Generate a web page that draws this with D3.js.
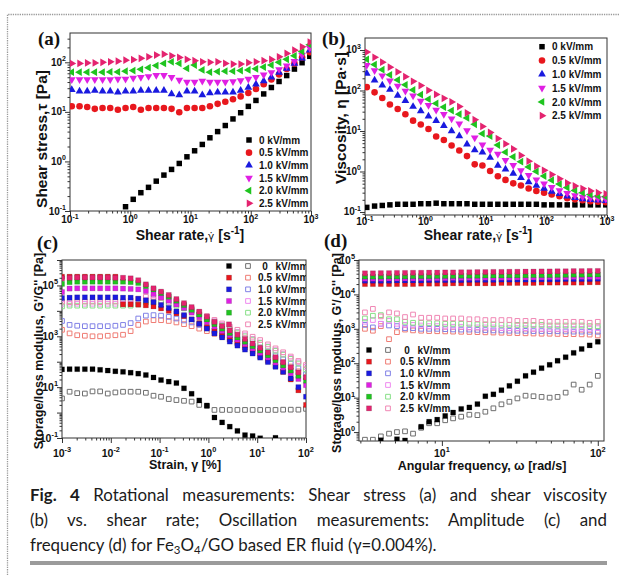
<!DOCTYPE html>
<html>
<head>
<meta charset="utf-8">
<script src="https://cdn.jsdelivr.net/npm/d3@7"></script>
<style>
  body { margin: 0; background: #fff; }
  svg { display: block; }
</style>
</head>
<body>
<svg id="fig" width="619" height="575"></svg>
<script>
// field strengths, shared by all four panels
const fields = ["0", "0.5", "1.0", "1.5", "2.0", "2.5"];

// (a) shear stress vs shear rate
const shearRate = [0.107, 0.144, 0.193, 0.258, 0.347, 0.465, 0.623, 0.835, 1.12, 1.50, 2.01, 2.70, 3.62, 4.85, 6.51, 8.73,
    11.7, 15.7, 21.0, 28.2, 37.8, 50.7, 68.0, 91.2, 122, 164, 220, 295, 395, 531, 711, 955];
const stress0 = [null, null, null, null, null, null, null, 0.122, 0.172, 0.234, 0.30, 0.40, 0.53, 0.69, 0.91, 1.24,
    1.64, 2.2, 3.0, 4.0, 5.3, 7.2, 9.6, 12.9, 17, 23, 31, 41, 54, 73, 98, 132];
const stress05 = [13, 13, 12.5, 11.5, 12, 12, 11, 12, 12.5, 11, 12, 12, 12, 11.5, 9.8, 12,
    12, 12, 13, 14.5, 16, 18, 20.5, 24, 29, 36, 45, 57, 73, 95, 125, 160];
const stress10 = [28, 26, 26, 27, 26, 26, 25, 26, 26, 27, 27, 27, 27, 23, 22, 26,
    26, 22, 24, 25, 25, 25, 27, 31, 36, 42, 50, 62, 75, 95, 120, 175];
const stress15 = [45, 45, 45, 45, 45, 45, 46, 46, 48, 50, 52, 55, 55, 50, 44, 40,
    40, 42, 40, 40, 40, 41, 43, 46, 50, 56, 62, 72, 85, 105, 140, 195];
const stress20 = [63, 63, 63, 63, 63, 64, 64, 66, 68, 72, 78, 86, 95, 102, 95, 75,
    88, 70, 63, 65, 66, 66, 68, 70, 74, 80, 88, 100, 115, 135, 165, 225];
const stress25 = [95, 95, 97, 97, 100, 102, 105, 110, 113, 120, 129, 140, 146, 135, 125, 114,
    108, 102, 100, 102, 95, 92, 92, 98, 102, 108, 114, 129, 151, 176, 205, 255];

// (b) viscosity vs shear rate
const visc0 = [0.13, 0.14, 0.145, 0.15, 0.155, 0.155, 0.155, 0.16, 0.16, 0.165, 0.16, 0.16, 0.16, 0.16, 0.155, 0.155,
    0.155, 0.155, 0.155, 0.155, 0.155, 0.155, 0.155, 0.15, 0.15, 0.15, 0.15, 0.15, 0.15, 0.15, 0.15, 0.15];
const visc05 = [121, 90, 65, 45, 35, 26, 18, 14.4, 11.2, 7.3, 6.0, 4.4, 3.3, 2.4, 1.5, 1.4,
    1.03, 0.76, 0.62, 0.51, 0.45, 0.38, 0.33, 0.30, 0.27, 0.245, 0.22, 0.205, 0.195, 0.185, 0.18, 0.175];
const visc10 = [262, 180, 135, 105, 75, 56, 40, 31, 23, 18, 13.4, 10, 7.5, 4.7, 3.4, 3.0,
    2.2, 1.4, 1.14, 0.89, 0.70, 0.55, 0.45, 0.38, 0.32, 0.28, 0.245, 0.225, 0.21, 0.2, 0.195, 0.19];
const visc15 = [420, 312, 233, 174, 130, 97, 74, 55, 43, 33, 26, 20, 15, 10.3, 6.8, 4.6,
    3.4, 2.7, 1.9, 1.42, 1.06, 0.81, 0.63, 0.50, 0.41, 0.34, 0.29, 0.255, 0.235, 0.22, 0.215, 0.21];
const visc20 = [590, 437, 326, 244, 182, 138, 103, 79, 61, 48, 39, 32, 26, 21, 14.6, 8.6,
    7.5, 4.5, 3.0, 2.3, 1.75, 1.30, 1.0, 0.77, 0.61, 0.49, 0.40, 0.34, 0.30, 0.27, 0.25, 0.24];
const visc25 = [890, 660, 500, 376, 288, 219, 169, 132, 101, 80, 64, 52, 40, 28, 19, 13,
    9.2, 6.5, 4.8, 3.6, 2.5, 1.8, 1.35, 1.07, 0.84, 0.66, 0.52, 0.44, 0.38, 0.33, 0.30, 0.28];

// (c) amplitude sweep: storage (G') and loss (G'') modulus vs strain
const strain = [0.001, 0.00143, 0.00205, 0.00294, 0.00422, 0.00604, 0.00866, 0.0124, 0.0178, 0.0255, 0.0365,
    0.0523, 0.0750, 0.107, 0.154, 0.221, 0.316, 0.453, 0.649, 0.931, 1.33, 1.91,
    2.74, 3.93, 5.62, 8.06, 11.5, 16.6, 23.7, 34.0, 48.7, 69.8, 100];
const ampG1_0 = [50, 51, 51, 51, 51, 48, 45, 42, 40, 37, 34, 30, 24, 19, 16.5, 14.5, 9,
    5.5, 3.0, 1.9, 0.64, 0.41, 0.28, 0.19, 0.13, 0.12, 0.098, null, 0.102, null, null, null, null];
const ampG1_05 = [2.2e5, 2.2e5, 2.2e5, 2.2e5, 2.2e5, 2.2e5, 2.2e5, 2.2e5, 1.8e4, 1.8e4, 1.75e4, 1.65e4, 1.5e4,
    1.25e4, 1.0e4, 8e3, 6.2e3, 4.6e3, 3.3e3, 2.3e3, 1.6e3, 1.1e3, 760, 520, 360, 245, 165, 108, 68, 40, 20, 7.5, 2.0];
const ampG1_10 = [3.2e4, 3.3e4, 3.4e4, 3.4e4, 3.4e4, 3.4e4, 3.4e4, 3.4e4, 3.3e4, 3.3e4, 3.0e4, 2.6e4, 2.2e4,
    1.7e4, 1.3e4, 9.5e3, 6.8e3, 4.6e3, 3.1e3, 2.0e3, 1.3e3, 900, 620, 430, 300, 210, 145, 97, 63, 40, 22, 10, 4.2];
const ampG1_15 = [5.5e4, 7.5e4, 7.7e4, 7.7e4, 7.7e4, 7.7e4, 7.7e4, 7.7e4, 7.5e4, 7.3e4, 7.0e4, 6.0e4, 4.6e4,
    3.4e4, 2.5e4, 1.8e4, 1.3e4, 8.5e3, 5.6e3, 3.7e3, 2.4e3, 1.6e3, 1.1e3, 730, 490, 330, 220, 145, 92, 58, 35, 21, 12];
const ampG1_20 = [1.15e5, 1.35e5, 1.4e5, 1.4e5, 1.4e5, 1.4e5, 1.4e5, 1.4e5, 1.4e5, 1.35e5, 1.25e5, 9.5e4, 7e4,
    5e4, 3.6e4, 2.5e4, 1.7e4, 1.1e4, 7.2e3, 4.6e3, 3.0e3, 2.0e3, 1.35e3, 900, 610, 410, 275, 180, 115, 72, 45, 28, 18];
const ampG1_25 = [1.9e5, 2.0e5, 2.05e5, 2.05e5, 2.05e5, 2.05e5, 2.05e5, 2.0e5, 2.0e5, 1.9e5, 1.6e5, 1.1e5, 7.7e4,
    5.7e4, 4.2e4, 2.9e4, 2.0e4, 1.4e4, 9.3e3, 5.9e3, 3.7e3, 2.5e3, 1.7e3, 1.15e3, 780, 520, 350, 230, 150, 95, 60, 38, 24];
const ampG2_0 = [3.6, 6.6, 5.8, 5.6, 6.8, 6.8, 5.6, 6.2, 6.6, 6.6, 6.6, 6.0, 4.6, 4.2, 3.4, 3.1, 2.9,
    2.7, 2.0, 1.8, 1.27, 1.27, 1.27, 1.27, 1.27, 1.27, 1.27, 1.27, 1.27, 1.3, 1.3, 1.3, 1.4];
const ampG2_05 = [1.8e3, 1.3e3, 1.1e3, 1.05e3, 1.0e3, 1.0e3, 1.05e3, 1.1e3, 1.15e3, 1.6e3, 2.8e3, 3.8e3, 4.3e3,
    4.3e3, 4.0e3, 3.5e3, 3.0e3, 2.5e3, 2.0e3, 1.6e3, 1.25e3, 960, 740, 570, 440, 330, 250, 185, 135, 95, 65, 42, 25];
const ampG2_10 = [4e3, 2.8e3, 2.6e3, 2.5e3, 2.5e3, 2.5e3, 2.5e3, 2.6e3, 2.8e3, 3.3e3, 5e3, 6.5e3, 6.8e3,
    6.5e3, 5.8e3, 5e3, 4.2e3, 3.5e3, 2.8e3, 2.2e3, 1.7e3, 1.3e3, 1.0e3, 780, 600, 450, 340, 250, 180, 125, 85, 55, 32];
const ampG2_15 = [1.9e4, 1.9e4, 1.9e4, 1.9e4, 1.9e4, 1.9e4, 1.9e4, 1.9e4, 1.9e4, 1.9e4, 2.2e4, 2.6e4, 2.7e4,
    2.5e4, 2.2e4, 1.8e4, 1.4e4, 1.05e4, 7.6e3, 5.4e3, 3.9e3, 2.8e3, 2.0e3, 1.5e3, 1.1e3, 790, 570, 400, 285, 200, 140, 95, 62];
const ampG2_20 = [1.5e4, 1.6e4, 1.6e4, 1.6e4, 1.6e4, 1.6e4, 1.6e4, 1.6e4, 1.6e4, 1.6e4, 1.8e4, 2.1e4, 2.2e4,
    2.1e4, 1.9e4, 1.6e4, 1.25e4, 9.5e3, 7e3, 5e3, 3.6e3, 2.6e3, 1.9e3, 1.4e3, 1.0e3, 740, 540, 380, 270, 190, 130, 85, 50];
const ampG2_25 = [2.3e4, 2.2e4, 2.2e4, 2.3e4, 2.3e4, 2.2e4, 2.3e4, 2.3e4, 2.4e4, 2.6e4, 3.0e4, 3.6e4, 3.6e4,
    3.3e4, 2.9e4, 2.3e4, 1.7e4, 1.26e4, 8.8e3, 6.3e3, 4.4e3, 3.2e3, 2.4e3, 1.8e3, 1.3e3, 960, 710, 480, 335, 235, 160, 107, 74];

// (d) frequency sweep: G' and G'' vs angular frequency
const freq = [3.21, 3.61, 4.06, 4.58, 5.15, 5.80, 6.53, 7.36, 8.28, 9.33, 10.5, 11.8, 13.3, 15.0, 16.9,
    19.0, 21.4, 24.1, 27.1, 30.5, 34.4, 38.7, 43.6, 49.1, 55.2, 62.2, 70.0, 78.8, 88.7, 100];
const frqG1_0 = [null, null, 0.58, null, 0.62, 0.57, null, 1.43, 2.0, 2.3, 2.95, 3.7, 4.7, 5.2, 6.5,
    11, 12.5, 16.5, 22, 30, 43, 55, 72, 90, 118, 150, 200, 260, 330, 420];
const frqG1_05 = [2.0e4, 2.0e4, 2.0e4, 2.0e4, 2.0e4, 2.0e4, 2.0e4, 2.05e4, 2.05e4, 2.05e4, 2.05e4, 2.1e4, 2.1e4, 2.1e4, 2.1e4,
    2.1e4, 2.1e4, 2.15e4, 2.15e4, 2.15e4, 2.15e4, 2.15e4, 2.2e4, 2.2e4, 2.2e4, 2.2e4, 2.2e4, 2.2e4, 2.25e4, 2.25e4];
const frqG1_10 = [2.5e4, 2.5e4, 2.5e4, 2.5e4, 2.55e4, 2.55e4, 2.55e4, 2.55e4, 2.6e4, 2.6e4, 2.6e4, 2.6e4, 2.6e4, 2.65e4, 2.65e4,
    2.65e4, 2.65e4, 2.7e4, 2.7e4, 2.7e4, 2.7e4, 2.7e4, 2.75e4, 2.75e4, 2.75e4, 2.8e4, 2.8e4, 2.8e4, 2.8e4, 2.85e4];
const frqG1_15 = [2.85e4, 2.85e4, 2.85e4, 2.9e4, 2.9e4, 2.9e4, 2.9e4, 2.95e4, 2.95e4, 2.95e4, 2.95e4, 3.0e4, 3.0e4, 3.0e4, 3.0e4,
    3.05e4, 3.05e4, 3.05e4, 3.05e4, 3.1e4, 3.1e4, 3.1e4, 3.1e4, 3.15e4, 3.15e4, 3.15e4, 3.2e4, 3.2e4, 3.2e4, 3.2e4];
const frqG1_20 = [3.3e4, 3.3e4, 3.3e4, 3.35e4, 3.35e4, 3.35e4, 3.4e4, 3.4e4, 3.4e4, 3.45e4, 3.45e4, 3.45e4, 3.5e4, 3.5e4, 3.5e4,
    3.55e4, 3.55e4, 3.55e4, 3.6e4, 3.6e4, 3.6e4, 3.65e4, 3.65e4, 3.65e4, 3.7e4, 3.7e4, 3.75e4, 3.75e4, 3.8e4, 3.8e4];
const frqG1_25 = [4.1e4, 4.1e4, 4.15e4, 4.15e4, 4.2e4, 4.2e4, 4.25e4, 4.25e4, 4.3e4, 4.3e4, 4.35e4, 4.35e4, 4.4e4, 4.4e4, 4.45e4,
    4.45e4, 4.5e4, 4.5e4, 4.55e4, 4.55e4, 4.6e4, 4.6e4, 4.65e4, 4.65e4, 4.7e4, 4.7e4, 4.75e4, 4.75e4, 4.8e4, 4.8e4];
const frqG2_0 = [0.6, 0.6, 0.75, 0.9, 1.0, 1.05, 0.9, 1.33, 1.8, 1.8, 2.2, 2.5, 2.8, 3.2, 3.1,
    3.9, 4.9, 6.4, 7.6, 9.5, 11.4, 11, 10.5, 10, 10.5, 14, 24, 17, 24, 43];
const frqG2_05 = [1.0e3, 880, 1.2e3, 500, 800, 950, 900, 880, 860, 850, 840, 830, 820, 810, 800,
    790, 780, 770, 760, 750, 740, 730, 720, 720, 710, 700, 700, 690, 680, 640];
const frqG2_10 = [1.3e3, 1.1e3, 1.4e3, 1.25e3, 1.2e3, 1.05e3, 1.05e3, 1.0e3, 1.0e3, 1.0e3, 980, 960, 950, 950, 930,
    920, 900, 900, 880, 880, 870, 860, 860, 850, 850, 840, 830, 830, 820, 820];
const frqG2_15 = [1.6e3, 1.8e3, 1.4e3, 1.7e3, 1.4e3, 1.3e3, 1.3e3, 1.25e3, 1.2e3, 1.2e3, 1.15e3, 1.15e3, 1.15e3, 1.1e3, 1.1e3,
    1.1e3, 1.1e3, 1.05e3, 1.05e3, 1.05e3, 1.05e3, 1.0e3, 1.0e3, 1.0e3, 1.0e3, 1.0e3, 1.0e3, 1.0e3, 1.0e3, 1.05e3];
const frqG2_20 = [2.0e3, 2.4e3, 2.5e3, 1.9e3, 1.9e3, 1.6e3, 1.5e3, 1.5e3, 1.45e3, 1.45e3, 1.4e3, 1.4e3, 1.4e3, 1.4e3, 1.35e3,
    1.35e3, 1.35e3, 1.3e3, 1.3e3, 1.3e3, 1.3e3, 1.3e3, 1.3e3, 1.25e3, 1.25e3, 1.25e3, 1.25e3, 1.25e3, 1.2e3, 1.2e3];
const frqG2_25 = [3.0e3, 3.8e3, 2.3e3, 3.0e3, 2.8e3, 2.2e3, 2.6e3, 2.1e3, 2.1e3, 2.1e3, 2.0e3, 2.0e3, 2.0e3, 1.9e3, 1.9e3,
    1.8e3, 1.8e3, 1.8e3, 1.8e3, 1.7e3, 1.7e3, 1.7e3, 1.6e3, 1.6e3, 1.6e3, 1.6e3, 1.6e3, 1.6e3, 1.5e3, 1.6e3];

const captionLines = [
    ["Fig. 4", " Rotational measurements: Shear stress (a) and shear viscosity"],
    ["", "(b) vs. shear rate; Oscillation measurements: Amplitude (c) and"]
];

const colors = ["#000000", "#e8171d", "#1a1adf", "#e01fe3", "#1fc41f", "#e4236f"];
const lightColors = ["#6e6e6e", "#ef7b73", "#8080e6", "#ef8aef", "#86df86", "#f087b4"];
const shapesAB = ["square", "circle", "up", "down", "left", "right"];

const SANS = "'Liberation Sans', Arial, sans-serif";
const svg = d3.select("#fig");
const defs = svg.append("defs");

// decade ticks and the 2..9 minor ticks inside a log domain
function logTicks(domain) {
    const lo = Math.floor(Math.log10(domain[0])), hi = Math.ceil(Math.log10(domain[1]));
    const major = [], minor = [];
    for (let e = lo; e <= hi; e++) {
        const p = Math.pow(10, e);
        if (p >= domain[0] * 0.999 && p <= domain[1] * 1.001) major.push(p);
        for (let k = 2; k < 10; k++) {
            const v = k * p;
            if (v > domain[0] && v < domain[1]) minor.push(v);
        }
    }
    return { major, minor };
}

// "10" with a raised exponent
function powText(sel, exp, x, y, anchor, size) {
    const t = sel.append("text").attr("x", x).attr("y", y).attr("text-anchor", anchor)
        .attr("font-size", size).attr("font-weight", "bold");
    t.append("tspan").text("10");
    t.append("tspan").attr("dy", -size * 0.45).attr("font-size", size * 0.7).text(exp);
    return t;
}

function makePanel(o) {
    const x = d3.scaleLog().domain(o.xDomain).range([o.left, o.right]);
    const y = d3.scaleLog().domain(o.yDomain).range([o.bottom, o.top]);
    const g = svg.append("g").attr("font-family", SANS).attr("fill", "#111");

    defs.append("clipPath").attr("id", "clip-" + o.name)
        .append("rect").attr("x", o.left).attr("y", o.top)
        .attr("width", o.right - o.left).attr("height", o.bottom - o.top);

    const xt = logTicks(o.xDomain), yt = logTicks(o.yDomain);
    const axisG = g.append("g").attr("color", "#333");
    const bottom = (vals, size) => axisG.append("g").attr("transform", `translate(0,${o.bottom})`)
        .call(d3.axisBottom(x).tickValues(vals).tickSize(size).tickSizeOuter(0).tickFormat(""))
        .call(a => a.select(".domain").remove());
    const left = (vals, size) => axisG.append("g").attr("transform", `translate(${o.left},0)`)
        .call(d3.axisLeft(y).tickValues(vals).tickSize(size).tickSizeOuter(0).tickFormat(""))
        .call(a => a.select(".domain").remove());
    bottom(xt.minor, 2.5);
    bottom(xt.major, 5);
    left(yt.minor, 2.5);
    left(yt.major, 5);

    // tick labels
    xt.major.forEach(v => {
        const e = Math.round(Math.log10(v));
        powText(g, String(e), x(v), o.bottom + o.xLabelGap, "middle", o.tickFont);
    });
    yt.major.forEach(v => {
        const e = Math.round(Math.log10(v));
        if (o.yLabelEvery && ((e % 2) + 2) % 2 !== 1) return;
        powText(g, String(e), o.left - 4, y(v) + o.tickFont * 0.35, "end", o.tickFont);
    });

    // frame
    g.append("rect").attr("x", o.left).attr("y", o.top)
        .attr("width", o.right - o.left).attr("height", o.bottom - o.top)
        .attr("fill", "none").attr("stroke", "#333").attr("stroke-width", 1);

    // panel letter
    g.append("text").attr("x", o.letterX).attr("y", o.letterY)
        .attr("font-family", "'Liberation Serif', 'Times New Roman', serif")
        .attr("font-weight", "bold").attr("font-size", 19).text(o.letter);

    const plot = svg.append("g").attr("clip-path", `url(#clip-${o.name})`);
    return { g, x, y, plot, o };
}

function symbolPath(shape, size) {
    if (shape === "square") return d3.symbol(d3.symbolSquare, size)();
    if (shape === "circle") return d3.symbol(d3.symbolCircle, size)();
    return d3.symbol(d3.symbolTriangle, size)();
}
const rotation = { up: 0, down: 180, left: -90, right: 90 };

function drawMarkers(layer, pts, shape, size, fill, stroke, sw) {
    const rot = rotation[shape] ? ` rotate(${rotation[shape]})` : "";
    layer.append("g").selectAll("path").data(pts).join("path")
        .attr("d", symbolPath(shape, size))
        .attr("transform", d => `translate(${d[0]},${d[1]})${rot}`)
        .attr("fill", fill).attr("stroke", stroke).attr("stroke-width", sw);
}

function drawSeries(p, xs, ys, shape, size, fill, stroke, sw) {
    const pts = xs.map((v, i) => [v, ys[i]]).filter(d => d[1] != null)
        .map(d => [p.x(d[0]), p.y(d[1])]);
    drawMarkers(p.plot, pts, shape, size, fill, stroke || "none", sw || 0);
}

// x title below, rotated y title on the left
function titles(p, xTitle, yTitle, xT, yT, size, ySize) {
    const tx = p.g.append("text").attr("x", xT[0]).attr("y", xT[1]).attr("text-anchor", "middle")
        .attr("font-weight", "bold").attr("font-size", size);
    xTitle(tx);
    const ty = p.g.append("text").attr("transform", `translate(${yT[0]},${yT[1]}) rotate(-90)`)
        .attr("text-anchor", "middle").attr("font-weight", "bold").attr("font-size", ySize);
    yTitle(ty);
}

// gamma-dot (combining dot above, shaped by DejaVu), then the unit with its exponent
function shearRateTitle(t) {
    t.append("tspan").text("Shear rate,");
    t.append("tspan").attr("font-family", "'DejaVu Sans', sans-serif").attr("font-size", 10.5)
        .attr("font-weight", "normal").text("\u03b3\u0307");
    t.append("tspan").text(" [s");
    t.append("tspan").attr("dy", -6).attr("font-size", 10).text("-1");
    t.append("tspan").attr("dy", 6).text("]");
}

// ---------- panel (a)
const pa = makePanel({
    name: "a", left: 70, right: 311, top: 33, bottom: 211,
    xDomain: [0.1, 1000], yDomain: [0.1, 390],
    tickFont: 10, xLabelGap: 12, letter: "(a)", letterX: 38, letterY: 45
});
[stress0, stress05, stress10, stress15, stress20, stress25].forEach((s, k) => {
    const size = shapesAB[k] === "square" ? 30 : shapesAB[k] === "circle" ? 34 : 26;
    drawSeries(pa, shearRate, s, shapesAB[k], size, colors[k]);
});
titles(pa, shearRateTitle, t => t.text("Shear stress,\u03c4 [Pa]"), [190, 240], [47, 139], 14, 15.5);

// ---------- panel (b)
const pb = makePanel({
    name: "b", left: 365, right: 607, top: 38, bottom: 215,
    xDomain: [0.1, 1000], yDomain: [0.0843, 1977],
    tickFont: 10, xLabelGap: 10, letter: "(b)", letterX: 322, letterY: 45
});
[visc0, visc05, visc10, visc15, visc20, visc25].forEach((s, k) => {
    const size = shapesAB[k] === "square" ? 30 : shapesAB[k] === "circle" ? 34 : 26;
    drawSeries(pb, shearRate, s, shapesAB[k], size, colors[k]);
});
titles(pb, shearRateTitle, t => t.text("Viscosity, \u03b7 [Pa\u00b7s]"), [478, 240], [346, 118], 14, 15.5);

// legends of (a) and (b)
function legendAB(p, x0, y0, dy) {
    fields.forEach((f, k) => {
        const size = shapesAB[k] === "square" ? 30 : shapesAB[k] === "circle" ? 34 : 26;
        drawMarkers(p.g, [[x0, y0 + k * dy]], shapesAB[k], size, colors[k], "none", 0);
        p.g.append("text").attr("x", x0 + 10).attr("y", y0 + k * dy + 3.6)
            .attr("font-size", 10).attr("font-weight", "bold").text(f + " kV/mm");
    });
}
legendAB(pa, 249, 140, 12.66);
legendAB(pb, 542, 46.7, 13.8);

// ---------- panel (c)
const pc = makePanel({
    name: "c", left: 62, right: 306, top: 260, bottom: 438,
    xDomain: [0.001, 100], yDomain: [0.1, 1e6], yLabelEvery: 2,
    tickFont: 10.5, xLabelGap: 19, letter: "(c)", letterX: 37, letterY: 249
});
[ampG2_0, ampG2_05, ampG2_10, ampG2_15, ampG2_20, ampG2_25].forEach((s, k) => {
    drawSeries(pc, strain, s, "square", 22, "none", lightColors[k], 1);
});
[ampG1_0, ampG1_05, ampG1_10, ampG1_15, ampG1_20, ampG1_25].forEach((s, k) => {
    drawSeries(pc, strain, s, "square", 26, colors[k], "rgba(0,0,0,0.35)", 0.4);
});
titles(pc, t => t.text("Strain, \u03b3 [%]"), t => t.text("Storage/loss modulus, G'/G'' [Pa]"),
    [185, 469], [43, 351], 12.5, 12.5);

// ---------- panel (d)
const pd = makePanel({
    name: "d", left: 359, right: 604, top: 260, bottom: 441,
    xDomain: [2.94, 109.6], yDomain: [0.55, 1e5],
    tickFont: 10.5, xLabelGap: 16, letter: "(d)", letterX: 324, letterY: 247
});
[frqG2_0, frqG2_05, frqG2_10, frqG2_15, frqG2_20, frqG2_25].forEach((s, k) => {
    drawSeries(pd, freq, s, "square", 22, "none", lightColors[k], 1);
});
[frqG1_0, frqG1_05, frqG1_10, frqG1_15, frqG1_20, frqG1_25].forEach((s, k) => {
    drawSeries(pd, freq, s, "square", 26, colors[k], "rgba(0,0,0,0.35)", 0.4);
});
titles(pd, t => t.text("Angular frequency, \u03c9 [rad/s]"), t => t.text("Storage/loss modulus, G'/ G'' [Pa]"),
    [482, 470], [341, 353], 12.5, 12.5);

// legends of (c) and (d): filled = G', open = G''
function legendCD(p, xf, xo, xn, y0, dy) {
    const lg = svg.append("g").attr("clip-path", `url(#clip-${p.o.name})`)
        .attr("font-family", SANS).attr("fill", "#111");
    fields.forEach((f, k) => {
        const yy = y0 + k * dy;
        drawMarkers(lg, [[xf, yy]], "square", 26, colors[k], "rgba(0,0,0,0.35)", 0.4);
        drawMarkers(lg, [[xo, yy]], "square", 22, "none", lightColors[k], 1);
        lg.append("text").attr("x", xn).attr("y", yy + 3.6).attr("text-anchor", "middle")
            .attr("font-size", 10).attr("font-weight", "bold").text(f);
        lg.append("text").attr("x", xn + 10.5).attr("y", yy + 3.6)
            .attr("font-size", 10).attr("font-weight", "bold").text("kV/mm");
    });
}
legendCD(pc, 229, 248, 265, 266, 11.67);
legendCD(pd, 369, 388, 407, 350, 11.67);

// ---------- page furniture: dotted frame, caption, rule
svg.append("path").attr("d", "M7.5,575V14.5H619")
    .attr("fill", "none").attr("stroke", "#9a9a9a").attr("stroke-width", 1.3)
    .attr("stroke-dasharray", "1.3,1");

const cap = svg.append("g").attr("font-family", "Lato, 'Open Sans', sans-serif").attr("fill", "#1b1b1b");
const capLeft = 30, capWidth = 577;
// last line sets the font size (it is not justified)
const last = cap.append("text").attr("x", capLeft).attr("y", 551).attr("font-size", 16);
last.append("tspan").text("frequency (d) for Fe");
last.append("tspan").attr("dy", 3).attr("font-size", 11).text("3");
last.append("tspan").attr("dy", -3).text("O");
last.append("tspan").attr("dy", 3).attr("font-size", 11).text("4");
last.append("tspan").attr("dy", -3).text("/GO based ER fluid (\u03b3=0.004%).");
const fs = 16 * 407 / last.node().getComputedTextLength();
last.attr("font-size", fs);
last.selectAll("tspan").filter(function () { return d3.select(this).attr("font-size"); })
    .attr("font-size", fs * 0.68);

captionLines.forEach((parts, i) => {
    const t = cap.append("text").attr("x", capLeft).attr("y", 501 + i * 25).attr("font-size", fs);
    if (parts[0]) t.append("tspan").attr("font-weight", "bold").text(parts[0]);
    t.append("tspan").text(parts[1]);
    const gaps = (parts[0] + parts[1]).split(" ").length - 1;
    const extra = (capWidth - t.node().getComputedTextLength()) / gaps;
    t.attr("word-spacing", extra);
});

svg.append("rect").attr("x", 30).attr("y", 561).attr("width", 577).attr("height", 4).attr("fill", "#9b9b9b");
</script>
</body>
</html>
